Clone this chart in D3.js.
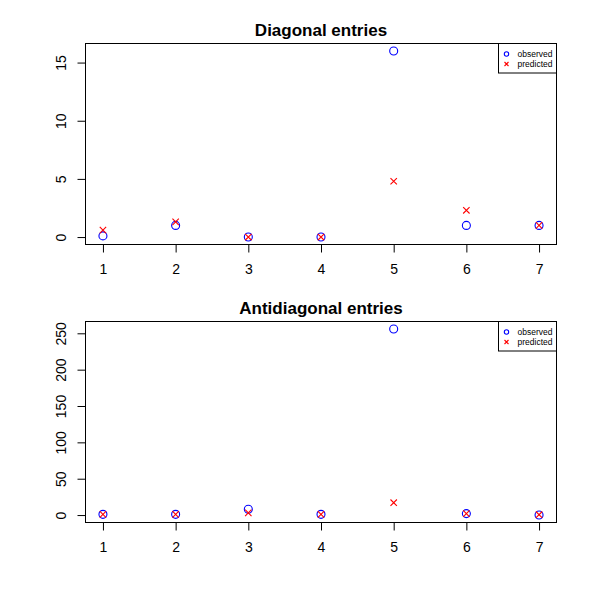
<!DOCTYPE html>
<html lang="en">
<head>
    <meta charset="UTF-8">
    <title>Diagonal and antidiagonal entries</title>
    <script src="https://d3js.org/d3.v7.min.js"></script>
    <style>
        body { margin: 0; background: #fff; }
        svg { font-family: "Liberation Sans", Arial, Helvetica, sans-serif; }
    </style>
</head>
<body>
    <div id="chart"></div>
    <script>
        // Values
        const positions = [1, 2, 3, 4, 5, 6, 7];
        const diagObserved = [0.1, 1, 0, 0, 16, 1, 1];
        const diagPredicted = [0.6, 1.3, 0, 0, 4.8, 2.3, 1];
        const antiObserved = [1, 1, 8, 1, 256, 2, 0];
        const antiPredicted = [1, 1, 3, 1, 17, 2, 0.5];
        const diagTicks = [0, 5, 10, 15];
        const antiTicks = [0, 50, 100, 150, 200, 250];
        const legendLabels = ["observed", "predicted"];

        const svg = d3.select("#chart").append("svg")
            .attr("width", 600)
            .attr("height", 600);

        // draw one R-style panel
        function panel(top, bottom, title, observed, predicted, yTicks) {
            const left = 85.5, right = 556.5;
            const allVals = observed.concat(predicted);
            const lo = d3.min(allVals), hi = d3.max(allVals);
            const pad = (hi - lo) * 0.04;

            const x = d3.scaleLinear()
                .domain([1 - 0.24, 7 + 0.24])
                .range([left, right]);
            const y = d3.scaleLinear()
                .domain([lo - pad, hi + pad])
                .range([bottom, top]);

            const g = svg.append("g");

            g.append("rect")
                .attr("x", left).attr("y", top)
                .attr("width", right - left).attr("height", bottom - top)
                .attr("fill", "none").attr("stroke", "#000").attr("stroke-width", 1);

            g.append("text")
                .attr("x", (left + right) / 2)
                .attr("y", top - 7.5)
                .attr("text-anchor", "middle")
                .attr("font-size", "17px")
                .attr("font-weight", "bold")
                .text(title);

            // x axis
            const xAxis = d3.axisBottom(x)
                .tickValues(positions)
                .tickSize(8)
                .tickPadding(12)
                .tickFormat(d3.format("d"));
            const gx = g.append("g")
                .attr("transform", `translate(0, ${bottom})`)
                .call(xAxis);
            gx.select(".domain").attr("d", `M${x(1)},0H${x(7)}`);
            gx.selectAll("text").attr("font-size", "14px").attr("font-family", null);

            // y axis with rotated labels
            const yAxis = d3.axisLeft(y)
                .tickValues(yTicks)
                .tickSize(8)
                .tickPadding(6)
                .tickFormat(d3.format("d"));
            const gy = g.append("g")
                .attr("transform", `translate(${left}, 0)`)
                .call(yAxis);
            gy.select(".domain").attr("d", `M0,${y(yTicks[0])}V${y(yTicks[yTicks.length - 1])}`);
            gy.selectAll(".tick text")
                .attr("font-size", "14px")
                .attr("font-family", null)
                .attr("x", null).attr("dy", null)
                .attr("text-anchor", "middle")
                .attr("transform", "translate(-19.5,0) rotate(-90)");

            // observed: open blue circles
            g.append("g").selectAll("circle")
                .data(observed)
                .join("circle")
                .attr("cx", (d, i) => x(positions[i]))
                .attr("cy", d => y(d))
                .attr("r", 4)
                .attr("fill", "none")
                .attr("stroke", "#0000ff")
                .attr("stroke-width", 1.1);

            // predicted: red crosses
            const s = 3.2;
            g.append("g").selectAll("path")
                .data(predicted)
                .join("path")
                .attr("d", (d, i) => {
                    const cx = x(positions[i]), cy = y(d);
                    return `M${cx - s},${cy - s}L${cx + s},${cy + s}M${cx - s},${cy + s}L${cx + s},${cy - s}`;
                })
                .attr("stroke", "#ff0000")
                .attr("stroke-width", 1.1)
                .attr("fill", "none");

            // legend
            const lw = 58, lh = 29.5;
            const lg = g.append("g").attr("transform", `translate(${right - lw}, ${top})`);
            lg.append("rect")
                .attr("width", lw).attr("height", lh)
                .attr("fill", "#fff").attr("stroke", "#000").attr("stroke-width", 1);
            legendLabels.forEach((lab, i) => {
                const cy = 10.5 + i * 10;
                if (i === 0) {
                    lg.append("circle")
                        .attr("cx", 8).attr("cy", cy).attr("r", 2.2)
                        .attr("fill", "none").attr("stroke", "#0000ff").attr("stroke-width", 1.1);
                } else {
                    const t = 2;
                    lg.append("path")
                        .attr("d", `M${8 - t},${cy - t}L${8 + t},${cy + t}M${8 - t},${cy + t}L${8 + t},${cy - t}`)
                        .attr("stroke", "#ff0000").attr("stroke-width", 1.1);
                }
                lg.append("text")
                    .attr("x", 19).attr("y", cy + 3)
                    .attr("font-size", "8.5px")
                    .text(lab);
            });
        }

        panel(43.5, 244.5, "Diagonal entries", diagObserved, diagPredicted, diagTicks);
        panel(321.5, 522.5, "Antidiagonal entries", antiObserved, antiPredicted, antiTicks);
    </script>
</body>
</html>
